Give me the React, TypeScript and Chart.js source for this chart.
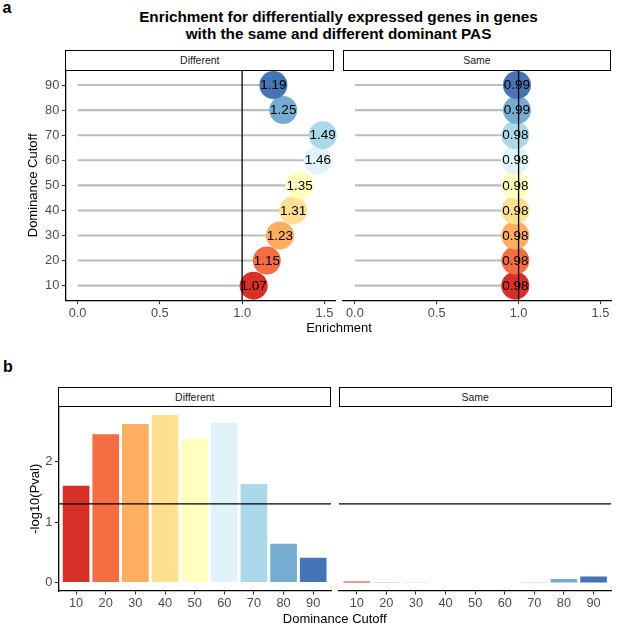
import React, { useEffect, useRef } from "react";
import { Chart, registerables } from "chart.js";

Chart.register(...registerables);

// ---------- data ----------
const cutoffs = [10, 20, 30, 40, 50, 60, 70, 80, 90];
const enrichmentDifferent = [1.07, 1.15, 1.23, 1.31, 1.35, 1.46, 1.49, 1.25, 1.19];
const enrichmentSame = [0.98, 0.98, 0.98, 0.98, 0.98, 0.98, 0.98, 0.99, 0.99];
const pvalDifferent = [1.6, 2.45, 2.62, 2.77, 2.38, 2.64, 1.63, 0.64, 0.41];
const pvalSame = [0.02, 0.005, 0.004, 0.002, 0.002, 0.002, 0.01, 0.06, 0.1];
const enrichmentTicks = [0, 0.5, 1.0, 1.5];
const pvalTicks = [0, 1, 2];
const enrichmentRef = 1;
const pvalThreshold = 1.3;
const palette = [
  "#D73027", "#F46D43", "#FDAE61", "#FEE090", "#FFFFBF",
  "#E0F3F8", "#ABD9E9", "#74ADD1", "#4575B4",
];

const FONT = '"Liberation Sans", Arial, Helvetica, sans-serif';
const TICK_COLOR = "#4D4D4D";
const TICK_SIZE = 12.8;
const positions = cutoffs.map((_, i) => i + 1);

type Box = { left: number; top: number; width: number; height: number };

function clearPadding(s: any) {
  s.paddingLeft = 0;
  s.paddingRight = 0;
  s.paddingTop = 0;
  s.paddingBottom = 0;
}

function xScale(min: number, max: number, tickValues: number[], fmt: (v: number) => string, height: number) {
  return {
    type: "linear",
    min,
    max,
    offset: false,
    afterBuildTicks: (s: any) => {
      s.ticks = tickValues.map((v) => ({ value: v }));
    },
    afterFit: (s: any) => {
      s.height = height;
      clearPadding(s);
    },
    ticks: {
      callback: (v: any) => fmt(Number(v)),
      color: TICK_COLOR,
      font: { family: FONT, size: TICK_SIZE },
      padding: 1.5,
      maxRotation: 0,
      autoSkip: false,
    },
    grid: { offset: false, drawOnChartArea: false, drawTicks: true, tickLength: 3.5, tickColor: "#333", tickWidth: 1.1 },
    border: { display: true, color: "#000", width: 1.3 },
  };
}

function yScale(show: boolean, min: number, max: number, tickValues: number[], fmt: (v: number) => string, width: number, title: string, titlePad: number) {
  return {
    type: "linear",
    display: show,
    min,
    max,
    offset: false,
    afterBuildTicks: (s: any) => {
      s.ticks = tickValues.map((v) => ({ value: v }));
    },
    afterFit: (s: any) => {
      s.width = show ? width : 0;
      clearPadding(s);
    },
    ticks: {
      callback: (v: any) => fmt(Number(v)),
      color: TICK_COLOR,
      font: { family: FONT, size: TICK_SIZE },
      padding: 2.5,
      autoSkip: false,
    },
    grid: { offset: false, drawOnChartArea: false, drawTicks: true, tickLength: 3.5, tickColor: "#333", tickWidth: 1.1 },
    border: { display: true, color: "#000", width: 1.3 },
    title: {
      display: true,
      text: title,
      color: "#000",
      font: { family: FONT, size: 13 },
      padding: { top: titlePad, bottom: 0 },
    },
  };
}

function lollipopConfig(values: number[], showY: boolean, padding: any) {
  return {
    type: "bar",
    data: {
      datasets: [
        {
          type: "bar",
          data: positions.map((p, i) => ({ x: [0, values[i]], y: p })),
          backgroundColor: "#BDBDBD",
          barThickness: 1.4,
          borderWidth: 0,
          order: 3,
        },
        {
          type: "scatter",
          data: positions.map((p, i) => ({ x: values[i], y: p })),
          pointRadius: 14,
          pointHoverRadius: 14,
          pointBackgroundColor: palette,
          pointBorderWidth: 0,
          pointHoverBorderWidth: 0,
          clip: false,
          order: 2,
        },
        {
          type: "line",
          data: [
            { x: enrichmentRef, y: 0.4 },
            { x: enrichmentRef, y: 9.6 },
          ],
          borderColor: "#000",
          borderWidth: 1.3,
          pointRadius: 0,
          order: 1,
        },
      ],
    },
    options: {
      indexAxis: "y",
      responsive: false,
      animation: false,
      events: [],
      layout: { padding, autoPadding: false },
      plugins: { legend: { display: false }, tooltip: { enabled: false } },
      scales: {
        x: xScale(-0.0745, 1.5645, enrichmentTicks, (v) => v.toFixed(1), 29.3),
        y: yScale(showY, 0.4, 9.6, positions, (v) => String(cutoffs[Math.round(v) - 1]), 65.3, "Dominance Cutoff", 25.5),
      },
    },
    plugins: [
      {
        id: "pointLabels",
        afterDatasetsDraw(chart: any) {
          const meta = chart.getDatasetMeta(1);
          const ctx = chart.ctx;
          ctx.save();
          ctx.font = `13.5px ${FONT}`;
          ctx.fillStyle = "#000";
          ctx.textAlign = "center";
          ctx.textBaseline = "middle";
          meta.data.forEach((el: any, i: number) => {
            ctx.fillText(values[i].toFixed(2), el.x, el.y + 0.5);
          });
          ctx.restore();
        },
      },
    ],
  };
}

function barConfig(values: number[], showY: boolean, padding: any) {
  return {
    type: "bar",
    data: {
      datasets: [
        {
          type: "bar",
          data: positions.map((p, i) => ({ x: p, y: values[i] })),
          backgroundColor: palette,
          barPercentage: 0.9,
          categoryPercentage: 1,
          borderWidth: 0,
          order: 2,
        },
        {
          type: "line",
          data: [
            { x: 0.4, y: pvalThreshold },
            { x: 9.6, y: pvalThreshold },
          ],
          borderColor: "#000",
          borderWidth: 1.3,
          pointRadius: 0,
          order: 1,
        },
      ],
    },
    options: {
      responsive: false,
      animation: false,
      events: [],
      layout: { padding, autoPadding: false },
      plugins: { legend: { display: false }, tooltip: { enabled: false } },
      scales: {
        x: xScale(0.4, 9.6, positions, (v) => String(cutoffs[Math.round(v) - 1]), 34),
        y: yScale(showY, -0.1385, 2.9085, pvalTicks, (v) => String(v), 58.3, "-log10(Pval)", 27.2),
      },
    },
  };
}

function ChartCanvas({ box, config }: { box: Box; config: any }) {
  const ref = useRef<HTMLCanvasElement | null>(null);
  useEffect(() => {
    if (!ref.current) return;
    const chart = new Chart(ref.current, config);
    return () => chart.destroy();
  }, []);
  return (
    <canvas
      ref={ref}
      width={box.width}
      height={box.height}
      style={{ position: "absolute", left: box.left, top: box.top, width: box.width, height: box.height }}
    />
  );
}

function Strip({ left, top, width, height, text }: any) {
  return (
    <div
      style={{
        position: "absolute",
        left,
        top,
        width,
        height,
        border: "1.3px solid #000",
        boxSizing: "border-box",
        display: "flex",
        alignItems: "center",
        justifyContent: "center",
        fontSize: 10.5,
        color: "#1A1A1A",
        background: "#fff",
      }}
    >
      {text}
    </div>
  );
}

function Label({ x, y, text, size, bold, color }: any) {
  return (
    <div
      style={{
        position: "absolute",
        left: x,
        top: y,
        transform: "translate(-50%, -50%)",
        whiteSpace: "nowrap",
        fontSize: size,
        fontWeight: bold ? 700 : 400,
        color: color || "#000",
        lineHeight: 1,
      }}
    >
      {text}
    </div>
  );
}

export default function App() {
  return (
    <div
      style={{
        position: "absolute",
        left: 0,
        top: 0,
        width: 617,
        height: 625,
        background: "#fff",
        fontFamily: FONT,
        overflow: "hidden",
      }}
    >
      <Label x={7} y={8} text="a" size={16} bold />
      <div
        style={{
          position: "absolute",
          left: 0,
          width: 677,
          top: 9.2,
          textAlign: "center",
          fontSize: 15.3,
          fontWeight: 700,
          lineHeight: "16.5px",
          color: "#000",
        }}
      >
        Enrichment for differentially expressed genes in genes
        <br />
        with the same and different dominant PAS
      </div>

      <ChartCanvas
        box={{ left: 0, top: 60, width: 345, height: 270 }}
        config={lollipopConfig(enrichmentDifferent, true, { left: 0, top: 10, right: 10, bottom: 0 })}
      />
      <ChartCanvas
        box={{ left: 330, top: 60, width: 287, height: 270 }}
        config={lollipopConfig(enrichmentSame, false, { left: 12.7, top: 10, right: 6, bottom: 0 })}
      />
      <Strip left={65.3} top={50} width={269} height={20.5} text="Different" />
      <Strip left={342.7} top={50} width={268.5} height={20.5} text="Same" />
      <Label x={339} y={326.7} text="Enrichment" size={13} />

      <Label x={8} y={367} text="b" size={16} bold />
      <ChartCanvas
        box={{ left: 0, top: 396, width: 341, height: 229 }}
        config={barConfig(pvalDifferent, true, { left: 0, top: 10.5, right: 10, bottom: 0 })}
      />
      <ChartCanvas
        box={{ left: 328, top: 396, width: 289, height: 229 }}
        config={barConfig(pvalSame, false, { left: 11, top: 10.5, right: 5.7, bottom: 0 })}
      />
      <Strip left={58.3} top={386.5} width={273} height={20.5} text="Different" />
      <Strip left={339} top={386.5} width={272.5} height={20.5} text="Same" />
      <Label x={334.7} y={618.3} text="Dominance Cutoff" size={13} />
    </div>
  );
}
